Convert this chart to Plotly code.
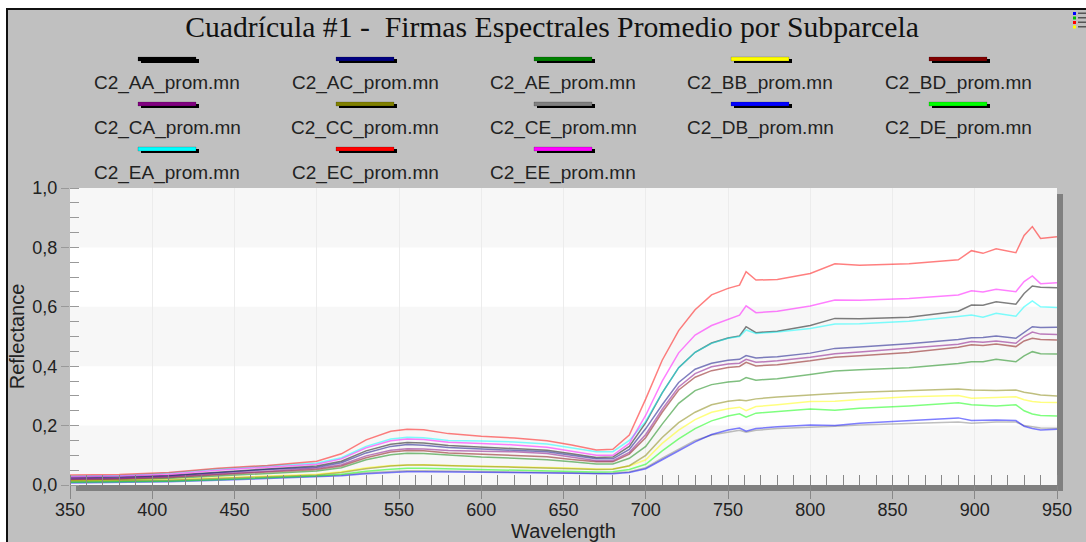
import plotly.graph_objects as go

# Wavelength samples (nm)
wavelength = [350, 380, 410, 440, 470, 500, 515, 530, 545, 555, 565, 580, 600, 620, 640, 655, 670, 680, 690, 700,
              710, 720, 730, 740, 750, 757, 761, 767, 780, 800, 815, 830, 860, 890, 898, 905, 913, 925, 930, 935, 940, 950]

# Mean reflectance per sub-plot
C2_AA = [.025, .027, .032, .044, .054, .064, .080, .115, .137, .143, .141, .133, .128, .124, .117, .105, .093, .094, .130, .210,
         .310, .395, .447, .478, .495, .502, .533, .513, .518, .537, .561, .560, .565, .585, .606, .605, .617, .609, .645, .670, .666, .664]
C2_AC = [.022, .024, .030, .042, .052, .060, .075, .108, .130, .136, .134, .126, .122, .118, .112, .100, .088, .088, .120, .190,
         .270, .345, .390, .410, .420, .423, .436, .428, .432, .444, .460, .465, .476, .490, .496, .497, .502, .494, .515, .533, .530, .531]
C2_AE = [.015, .017, .022, .031, .040, .047, .058, .085, .102, .107, .106, .100, .094, .090, .085, .078, .071, .071, .090, .130,
         .205, .275, .318, .338, .347, .350, .362, .353, .358, .372, .384, .388, .395, .409, .415, .415, .423, .415, .435, .449, .442, .441]
C2_BB = [.014, .015, .018, .024, .030, .036, .045, .058, .066, .068, .068, .066, .064, .062, .060, .057, .054, .055, .064, .085,
         .140, .185, .220, .245, .257, .262, .250, .264, .270, .281, .282, .288, .297, .301, .292, .294, .295, .297, .287, .281, .279, .278]
C2_BD = [.018, .020, .025, .035, .044, .052, .064, .092, .111, .116, .115, .108, .104, .100, .095, .086, .078, .078, .104, .160,
         .245, .320, .363, .385, .396, .399, .413, .401, .405, .418, .430, .435, .446, .464, .472, .470, .475, .466, .485, .494, .490, .488]
C2_CA = [.020, .022, .028, .038, .048, .056, .068, .098, .117, .122, .121, .116, .114, .112, .106, .095, .082, .082, .110, .170,
         .255, .330, .375, .398, .407, .410, .423, .413, .418, .430, .442, .448, .460, .474, .483, .481, .485, .477, .500, .515, .508, .507]
C2_CC = [.012, .013, .016, .022, .028, .034, .042, .055, .064, .067, .067, .064, .062, .060, .058, .055, .052, .053, .065, .100,
         .160, .210, .245, .270, .282, .286, .284, .290, .296, .304, .308, .312, .318, .323, .320, .319, .318, .320, .312, .308, .303, .300]
C2_CE = [.010, .011, .014, .019, .024, .029, .034, .041, .046, .048, .048, .047, .046, .045, .043, .041, .039, .040, .045, .058,
         .090, .120, .150, .168, .178, .184, .178, .184, .190, .196, .198, .202, .208, .212, .208, .210, .212, .212, .200, .196, .192, .191]
C2_DB = [.007, .008, .011, .016, .021, .026, .031, .038, .043, .045, .045, .044, .043, .042, .041, .039, .037, .038, .042, .055,
         .085, .115, .145, .170, .185, .192, .181, .190, .196, .202, .200, .208, .218, .226, .217, .219, .219, .217, .198, .190, .185, .188]
C2_DE = [.009, .010, .013, .018, .024, .030, .036, .046, .053, .056, .056, .054, .052, .050, .048, .046, .044, .045, .052, .070,
         .115, .155, .190, .216, .232, .240, .228, .242, .248, .256, .252, .258, .266, .277, .270, .268, .266, .270, .250, .239, .234, .232]
C2_EA = [.030, .032, .040, .054, .064, .074, .092, .130, .155, .161, .159, .150, .148, .145, .138, .126, .112, .112, .150, .215,
         .310, .395, .447, .477, .494, .500, .522, .510, .515, .527, .542, .543, .551, .567, .572, .565, .578, .568, .600, .620, .600, .598]
C2_EC = [.034, .035, .042, .056, .066, .080, .105, .152, .181, .188, .186, .173, .164, .158, .149, .135, .118, .120, .168, .290,
         .420, .520, .590, .640, .662, .673, .718, .690, .692, .712, .745, .740, .745, .758, .789, .780, .795, .782, .840, .870, .830, .836]
C2_EE = [.028, .030, .036, .050, .060, .070, .088, .125, .149, .155, .153, .144, .140, .135, .127, .114, .100, .100, .140, .235,
         .350, .445, .505, .537, .558, .572, .603, .580, .585, .603, .623, .622, .628, .640, .654, .650, .659, .651, .685, .704, .678, .681]

series_names = ["C2_AA_prom.mn", "C2_AC_prom.mn", "C2_AE_prom.mn", "C2_BB_prom.mn", "C2_BD_prom.mn",
                "C2_CA_prom.mn", "C2_CC_prom.mn", "C2_CE_prom.mn", "C2_DB_prom.mn", "C2_DE_prom.mn",
                "C2_EA_prom.mn", "C2_EC_prom.mn", "C2_EE_prom.mn"]
series_values = [C2_AA, C2_AC, C2_AE, C2_BB, C2_BD, C2_CA, C2_CC, C2_CE, C2_DB, C2_DE, C2_EA, C2_EC, C2_EE]

# Series colours (r, g, b)
palette = [(0, 0, 0), (0, 0, 128), (0, 128, 0), (255, 255, 0), (128, 0, 0),
           (128, 0, 128), (128, 128, 0), (128, 128, 128), (0, 0, 255), (0, 255, 0),
           (0, 255, 255), (255, 0, 0), (255, 0, 255)]

W, H = 1086, 542
L, R, T, B = 70, 1057, 188, 485  # plot area in pixels


def px(x):
    return (x - L) / (R - L)


def py(y):
    return (B - y) / (B - T)


fig = go.Figure()
for name, vals, (r, g, b) in zip(series_names, series_values, palette):
    fig.add_trace(go.Scatter(x=wavelength, y=vals, mode="lines", name=name,
                             line=dict(color=f"rgba({r},{g},{b},0.5)", width=1.5),
                             showlegend=False))

shapes = []
# window frame
shapes.append(dict(type="rect", xref="paper", yref="paper", layer="below",
                   x0=px(7), x1=px(1100), y0=py(560), y1=py(9),
                   fillcolor="#c0c0c0", line=dict(color="#111", width=2)))
# plot drop shadow
shapes.append(dict(type="rect", xref="paper", yref="paper", layer="below",
                   x0=px(76), x1=px(1063), y0=py(491), y1=py(194),
                   fillcolor="#808080", line=dict(width=0)))
# plot background
shapes.append(dict(type="rect", xref="paper", yref="paper", layer="below",
                   x0=0, x1=1, y0=0, y1=1, fillcolor="white", line=dict(width=0)))
# alternating horizontal bands
for lo in (0.0, 0.4, 0.8):
    shapes.append(dict(type="rect", xref="paper", yref="y", layer="below",
                       x0=0, x1=1, y0=lo, y1=lo + 0.2, fillcolor="#f7f7f7", line=dict(width=0)))

annotations = []
# legend grid: 5 columns x 3 rows, sample line above each label
col_x = [167, 365, 563, 760, 958]
row_line_y = [59, 104, 149]
row_text_y = [83, 128, 173]
for i, (name, (r, g, b)) in enumerate(zip(series_names, palette)):
    cx = col_x[i % 5]
    ly = row_line_y[i // 5]
    ty = row_text_y[i // 5]
    shapes.append(dict(type="rect", xref="paper", yref="paper", layer="above",
                       x0=px(cx - 26), x1=px(cx + 32), y0=py(ly + 4), y1=py(ly),
                       fillcolor="#000", line=dict(width=0)))
    shapes.append(dict(type="rect", xref="paper", yref="paper", layer="above",
                       x0=px(cx - 29), x1=px(cx + 29), y0=py(ly + 2), y1=py(ly - 2),
                       fillcolor=f"rgb({r},{g},{b})", line=dict(color="rgba(0,0,0,0.35)", width=0.5)))
    annotations.append(dict(text=name, xref="paper", yref="paper", x=px(cx), y=py(ty),
                            xanchor="center", yanchor="middle", showarrow=False,
                            font=dict(family="Liberation Sans, Arial", size=19, color="#222")))

# small legend toggle icon in the corner
for k, c in enumerate(["#0000ff", "#00c000", "#ff0000", "#ffff00"]):
    y0 = 12 + k * 4.5
    shapes.append(dict(type="rect", xref="paper", yref="paper", layer="above",
                       x0=px(1073), x1=px(1076), y0=py(y0 + 3), y1=py(y0),
                       fillcolor=c, line=dict(width=0)))
    shapes.append(dict(type="rect", xref="paper", yref="paper", layer="above",
                       x0=px(1078), x1=px(1086), y0=py(y0 + 2), y1=py(y0 + 0.5),
                       fillcolor="#555", line=dict(width=0)))

axis_font = dict(family="Liberation Sans, Arial", size=18, color="#222")
title_font = dict(family="Liberation Sans, Arial", size=20, color="#222")

fig.update_layout(
    width=W, height=H,
    margin=dict(l=L, r=W - R, t=T, b=H - B),
    paper_bgcolor="white", plot_bgcolor="white",
    separators=", ",
    showlegend=False,
    title=dict(text="Cuadrícula #1 -\u00a0 Firmas Espectrales Promedio por Subparcela",
               xref="container", x=552 / W, xanchor="center",
               yref="container", y=1 - 27 / H, yanchor="middle",
               font=dict(family="Liberation Serif, Times New Roman", size=29.7, color="#111")),
    xaxis=dict(range=[350, 950], tick0=350, dtick=50, ticks="outside", ticklen=13,
               tickcolor="#888", showgrid=True, gridcolor="#ececec", gridwidth=1,
               zeroline=False, showline=False, tickfont=axis_font, ticklabelstandoff=-5,
               automargin=False,
               title=dict(text="Wavelength", font=title_font, standoff=4),
               minor=dict(dtick=10, tick0=350, ticks="inside", ticklen=10, tickcolor="#888", showgrid=False)),
    yaxis=dict(range=[0, 1], tick0=0, dtick=0.2, tickformat=".1f", ticks="outside", ticklen=8,
               tickcolor="#999", showgrid=False, zeroline=False, showline=False, tickfont=axis_font,
               automargin=False,
               title=dict(text="Reflectance", font=title_font, standoff=2),
               minor=dict(dtick=0.05, tick0=0, ticks="inside", ticklen=9, tickcolor="#999", showgrid=False)),
    shapes=shapes,
    annotations=annotations,
)

fig.write_html("out.html")
